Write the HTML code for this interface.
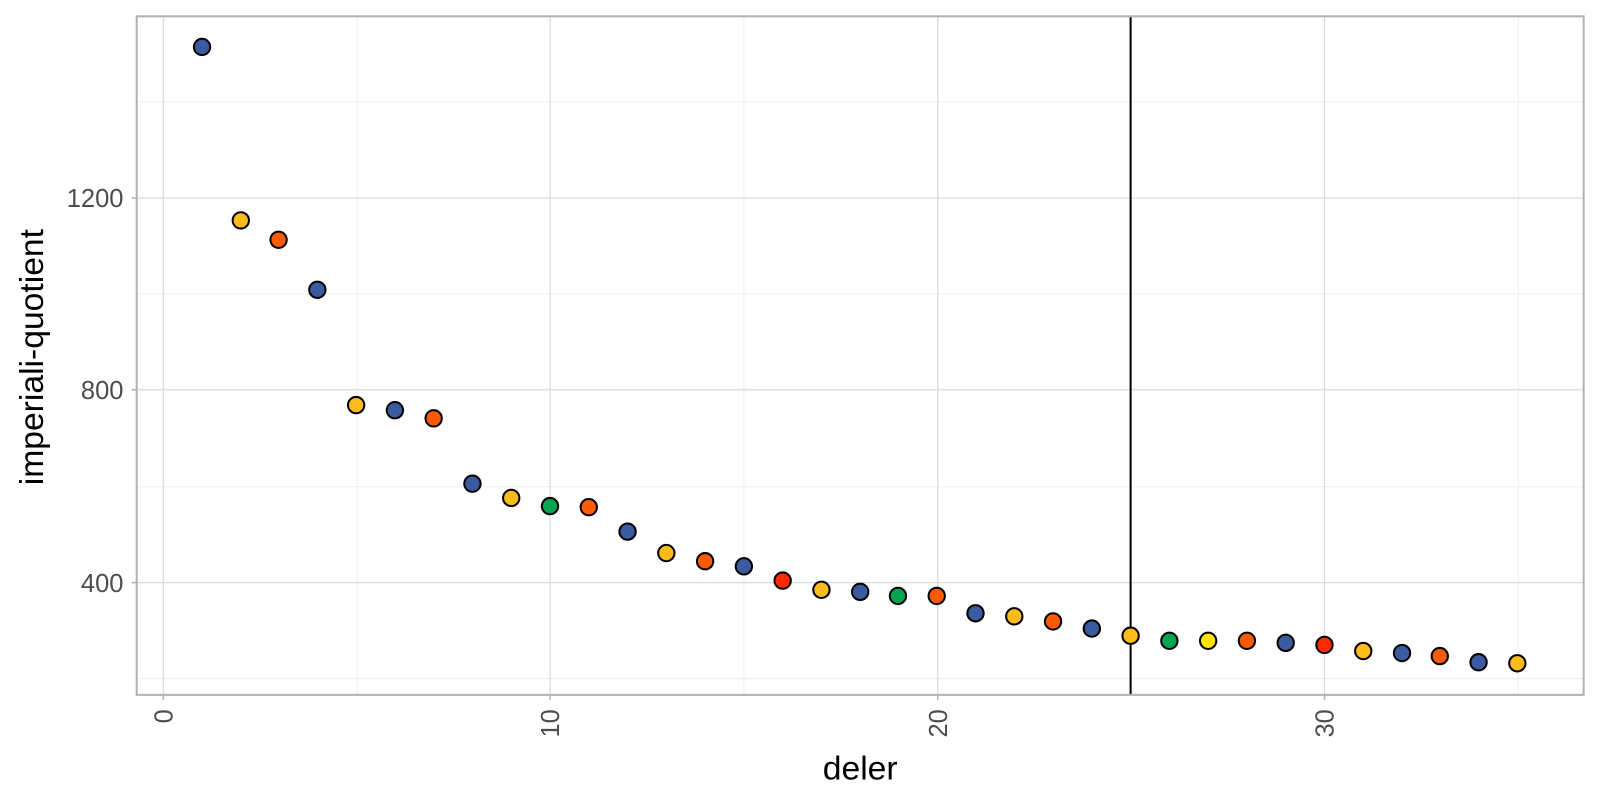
<!DOCTYPE html>
<html><head><style>body{margin:0;background:#fff}svg text{font-family:"Liberation Sans","DejaVu Sans",sans-serif}</style></head>
<body>
<svg width="1600" height="800" viewBox="0 0 1600 800" xmlns="http://www.w3.org/2000/svg">
<rect width="1600" height="800" fill="#fff"/>
<g transform="scale(1.0204)">
<g stroke="#efefef" stroke-width="1">
<line x1="134" x2="1552" y1="100" y2="100"/><line x1="134" x2="1552" y1="288" y2="288"/><line x1="134" x2="1552" y1="477" y2="477"/><line x1="134" x2="1552" y1="665" y2="665"/>
<line x1="350" x2="350" y1="16" y2="681"/><line x1="729" x2="729" y1="16" y2="681"/><line x1="1108" x2="1108" y1="16" y2="681"/><line x1="1488" x2="1488" y1="16" y2="681"/>
</g>
<g stroke="#d9d9d9" stroke-width="1.2">
<line x1="134" x2="1552" y1="194" y2="194"/><line x1="134" x2="1552" y1="382" y2="382"/><line x1="134" x2="1552" y1="571" y2="571"/>
<line x1="160" x2="160" y1="16" y2="681"/><line x1="539" x2="539" y1="16" y2="681"/><line x1="919" x2="919" y1="16" y2="681"/><line x1="1298" x2="1298" y1="16" y2="681"/>
</g>
<line x1="1108" x2="1108" y1="16" y2="681" stroke="#000" stroke-width="2"/>
<g stroke="#000" stroke-width="2">
<circle cx="198" cy="46" r="8" fill="#3a5ba0"/>
<circle cx="236" cy="216" r="8" fill="#fbbc1c"/>
<circle cx="273" cy="235" r="8" fill="#ff5a00"/>
<circle cx="311" cy="284" r="8" fill="#3a5ba0"/>
<circle cx="349" cy="397" r="8" fill="#fbbc1c"/>
<circle cx="387" cy="402" r="8" fill="#3a5ba0"/>
<circle cx="425" cy="410" r="8" fill="#ff5a00"/>
<circle cx="463" cy="474" r="8" fill="#3a5ba0"/>
<circle cx="501" cy="488" r="8" fill="#fbbc1c"/>
<circle cx="539" cy="496" r="8" fill="#00a651"/>
<circle cx="577" cy="497" r="8" fill="#ff5a00"/>
<circle cx="615" cy="521" r="8" fill="#3a5ba0"/>
<circle cx="653" cy="542" r="8" fill="#fbbc1c"/>
<circle cx="691" cy="550" r="8" fill="#ff5a00"/>
<circle cx="729" cy="555" r="8" fill="#3a5ba0"/>
<circle cx="767" cy="569" r="8" fill="#ff2a00"/>
<circle cx="805" cy="578" r="8" fill="#fbbc1c"/>
<circle cx="843" cy="580" r="8" fill="#3a5ba0"/>
<circle cx="880" cy="584" r="8" fill="#00a651"/>
<circle cx="918" cy="584" r="8" fill="#ff5a00"/>
<circle cx="956" cy="601" r="8" fill="#3a5ba0"/>
<circle cx="994" cy="604" r="8" fill="#fbbc1c"/>
<circle cx="1032" cy="609" r="8" fill="#ff5a00"/>
<circle cx="1070" cy="616" r="8" fill="#3a5ba0"/>
<circle cx="1108" cy="623" r="8" fill="#fbbc1c"/>
<circle cx="1146" cy="628" r="8" fill="#00a651"/>
<circle cx="1184" cy="628" r="8" fill="#ffe500"/>
<circle cx="1222" cy="628" r="8" fill="#ff5a00"/>
<circle cx="1260" cy="630" r="8" fill="#3a5ba0"/>
<circle cx="1298" cy="632" r="8" fill="#ff2a00"/>
<circle cx="1336" cy="638" r="8" fill="#fbbc1c"/>
<circle cx="1374" cy="640" r="8" fill="#3a5ba0"/>
<circle cx="1411" cy="643" r="8" fill="#ff5a00"/>
<circle cx="1449" cy="649" r="8" fill="#3a5ba0"/>
<circle cx="1487" cy="650" r="8" fill="#fbbc1c"/>
</g>
<rect x="134" y="16" width="1418" height="665" fill="none" stroke="#b3b3b3" stroke-width="2"/>
<g stroke="#b3b3b3" stroke-width="1.5">
<line x1="129" x2="134" y1="194" y2="194"/><line x1="129" x2="134" y1="382" y2="382"/><line x1="129" x2="134" y1="571" y2="571"/>
<line x1="160" x2="160" y1="681" y2="686"/><line x1="539" x2="539" y1="681" y2="686"/><line x1="919" x2="919" y1="681" y2="686"/><line x1="1298" x2="1298" y1="681" y2="686"/>
</g>
<g font-size="25" fill="#4d4d4d" text-anchor="end">
<text x="121" y="203">1200</text><text x="121" y="391">800</text><text x="121" y="580">400</text>
</g>
<g font-size="25" fill="#4d4d4d" text-anchor="end">
<text transform="translate(169,695) rotate(-90)">0</text>
<text transform="translate(548,695) rotate(-90)">10</text>
<text transform="translate(928,695) rotate(-90)">20</text>
<text transform="translate(1307,695) rotate(-90)">30</text>
</g>
<text x="843" y="764" font-size="33" text-anchor="middle" fill="#000">deler</text>
<text transform="translate(42,350) rotate(-90)" font-size="33" text-anchor="middle" fill="#000">imperiali-quotient</text>
</g>
</svg>
</body></html>
